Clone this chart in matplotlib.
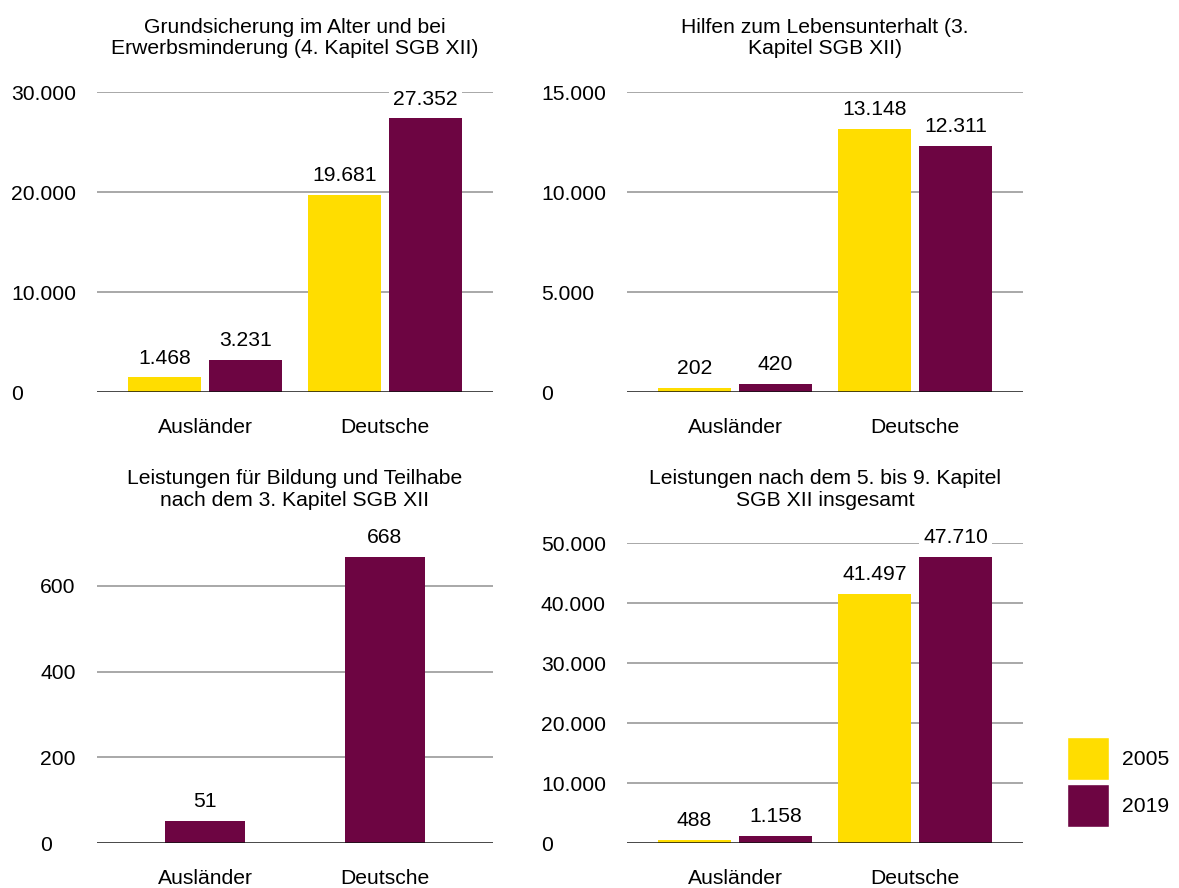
import matplotlib.pyplot as plt
from matplotlib.ticker import FuncFormatter
from matplotlib.patches import Patch

plt.rcParams['font.family'] = ['Liberation Sans', 'DejaVu Sans']

categories = ['Ausländer', 'Deutsche']
years = ['2005', '2019']

titles = [
    'Grundsicherung im Alter und bei\nErwerbsminderung (4. Kapitel SGB XII)',
    'Hilfen zum Lebensunterhalt (3.\nKapitel SGB XII)',
    'Leistungen für Bildung und Teilhabe\nnach dem 3. Kapitel SGB XII',
    'Leistungen nach dem 5. bis 9. Kapitel\nSGB XII insgesamt',
]

grundsicherung_2005 = [1468, 19681]
grundsicherung_2019 = [3231, 27352]
lebensunterhalt_2005 = [202, 13148]
lebensunterhalt_2019 = [420, 12311]
bildung_2005 = [None, None]
bildung_2019 = [51, 668]
insgesamt_2005 = [488, 41497]
insgesamt_2019 = [1158, 47710]

series = [
    (grundsicherung_2005, grundsicherung_2019),
    (lebensunterhalt_2005, lebensunterhalt_2019),
    (bildung_2005, bildung_2019),
    (insgesamt_2005, insgesamt_2019),
]
y_max = [30000, 15000, 700, 50000]
y_ticks = [[0, 10000, 20000, 30000], [0, 5000, 10000, 15000],
           [0, 200, 400, 600], [0, 10000, 20000, 30000, 40000, 50000]]
y_pad = [62, 62, 41, 62]

colors = ['#FFDD00', '#6D0542']


def de_fmt(v, pos=None):
    return f'{int(round(v)):,}'.replace(',', '.')


fig = plt.figure(figsize=(11.79, 8.88), dpi=100)

W, H = 1179, 888
boxes = [(97, 92), (627, 92), (97, 543), (627, 543)]
aw, ah = 396, 300

for i, (x0, y0) in enumerate(boxes):
    ax = fig.add_axes([x0 / W, 1 - (y0 + ah) / H, aw / W, ah / H])
    s2005, s2019 = series[i]
    xs = range(len(categories))
    if all(v is None for v in s2005):
        groups = [(s2019, colors[1], 0.0, 0.445)]
    else:
        groups = [(s2005, colors[0], -0.225, 0.405),
                  (s2019, colors[1], 0.225, 0.405)]
    for vals, col, off, w in groups:
        pos = [x + off for x in xs]
        bars = ax.bar(pos, vals, width=w, color=col, zorder=3)
        for b, v in zip(bars, vals):
            ax.annotate(de_fmt(v), (b.get_x() + b.get_width() / 2, v),
                        xytext=(0, 7), textcoords='offset points',
                        ha='center', va='bottom', fontsize=15.2, zorder=5,
                        bbox=dict(facecolor='white', edgecolor='none', pad=3))
    ax.set_xlim(-0.6, 1.6)
    ax.set_ylim(0, y_max[i])
    ax.set_yticks(y_ticks[i])
    ax.yaxis.set_major_formatter(FuncFormatter(de_fmt))
    ax.set_xticks(list(xs))
    ax.set_xticklabels(categories)
    for t in y_ticks[i][1:]:
        ax.axhline(t, color='#9a9a9a', lw=1.2, zorder=1)
    ax.axhline(0, color='#111111', lw=1.8, zorder=4)
    for sp in ax.spines.values():
        sp.set_visible(False)
    ax.tick_params(axis='x', length=0, pad=19, labelsize=15.2)
    ax.tick_params(axis='y', length=0, pad=y_pad[i], labelsize=15.2)
    for lab in ax.get_yticklabels():
        lab.set_horizontalalignment('left')
    ax.set_title(titles[i], fontsize=15.2, pad=27, linespacing=1.15)

handles = [Patch(facecolor=c, edgecolor='white') for c in colors]
fig.legend(handles, years, loc='center left', bbox_to_anchor=(1067 / W, 1 - 782 / H),
           frameon=False, fontsize=15.2, handlelength=2.0, handleheight=2.8,
           labelspacing=0.15, handletextpad=0.6, borderpad=0, borderaxespad=0)

fig.savefig('out.png', dpi=100, facecolor='white')
